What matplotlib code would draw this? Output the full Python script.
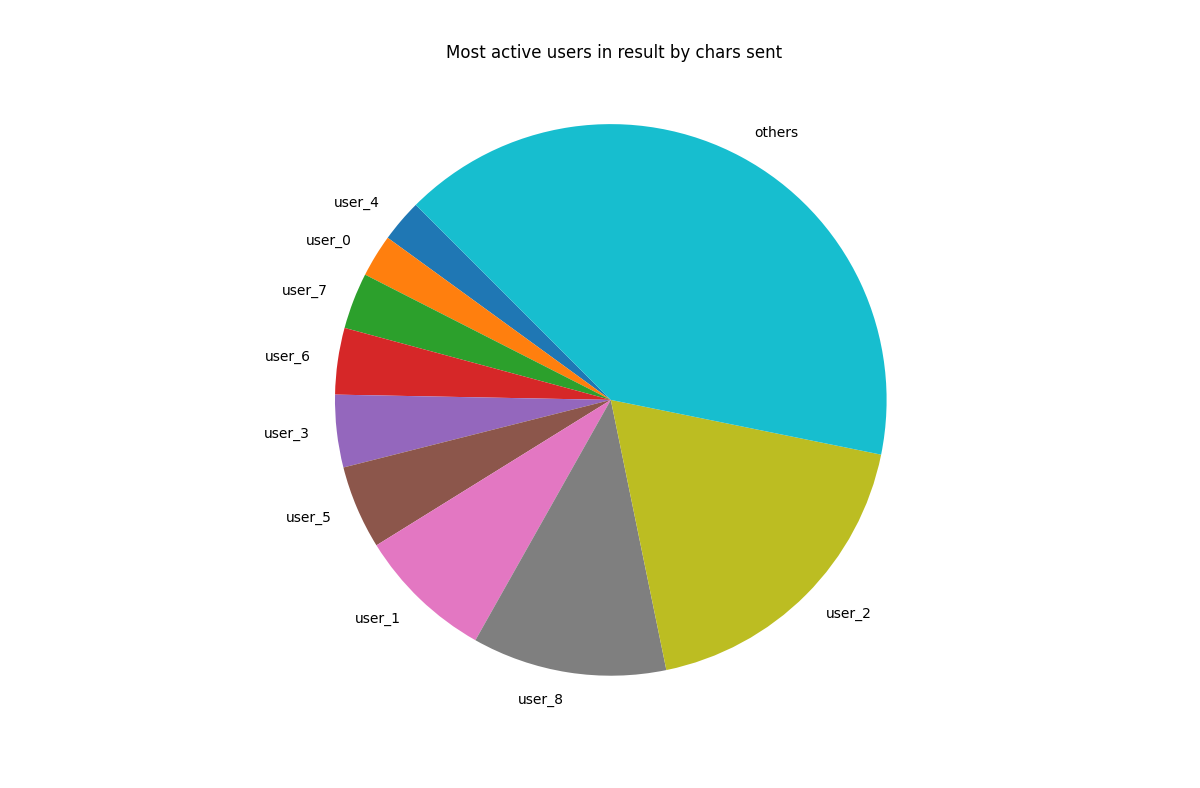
import matplotlib.pyplot as plt

users = ['user_4', 'user_0', 'user_7', 'user_6', 'user_3', 'user_5', 'user_1', 'user_8', 'user_2', 'others']
chars = [2.5, 2.5, 3.3, 3.9, 4.25, 4.9, 8.0, 11.4, 18.6, 40.7]

plt.figure(figsize=(12, 7.88), dpi=100)
plt.subplots_adjust(left=0.118, right=0.9, bottom=0.1075, top=0.8775)
plt.pie(chars, labels=users, startangle=135)
plt.axis('equal')
plt.title('Most active users in result by chars sent', pad=28, x=0.504)

plt.savefig('out.png', dpi=100)
